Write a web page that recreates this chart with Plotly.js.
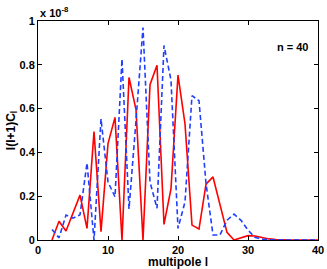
<!DOCTYPE html>
<html>
<head>
<meta charset="utf-8">
<script src="https://cdn.plot.ly/plotly-3.0.1.min.js"></script>
<style>html,body{margin:0;padding:0;background:#fff;}#chart{width:327px;height:269px;}</style>
</head>
<body>
<div id="chart"></div>
<script>
// multipole l
const multipole = [2,3,4,5,6,7,8,9,10,11,12,13,14,15,16,17,18,19,20,21,22,23,24,25,26,27,28,29,30,31,32,33,34,35,36,37,38,39,40];
// l(l+1)C_l in units of 1e-8, red solid series
const seriesRed = [0,0.086,0.041,0.12,0.205,0.053,0.495,0.038,0.44,0.56,0,0.742,0.595,0,0.709,0.798,0.071,0.235,0.753,0.53,0.068,0.05,0.255,0.288,0.165,0.035,0,0.01,0.02,0.018,0.01,0.005,0.002,0,0,0,0,0,0];
// blue dashed series
const seriesBlue = [0.048,0.01,0.114,0.10,0.115,0.352,0,0.553,0.265,0.197,0.826,0.142,0.545,0.97,0.265,0.145,0.888,0.73,0.053,0.174,0.659,0.636,0.258,0.023,0.023,0.09,0.118,0.09,0.045,0.012,0.003,0,0,0,0,0,0,0,0];
const xTicks = [0,10,20,30,40];
const yTicks = [0,0.2,0.4,0.6,0.8,1];
const yTickText = ['0','0.2','0.4','0.6','0.8','1'];

const fam = 'Liberation Sans, Arial, sans-serif';
const tickFnt = {family:fam, size:11, color:'#000', weight:'bold'};
const titleFnt = {family:fam, size:12, color:'#000', weight:'bold'};

const traces = [
  {x: multipole, y: seriesRed, mode:'lines', line:{color:'#ff0000', width:1.6}, name:'red'},
  {x: multipole, y: seriesBlue, mode:'lines', line:{color:'#1f3fff', width:1.6, dash:'5px,3px'}, name:'blue'}
];

const layout = {
  width:327, height:269,
  margin:{l:38, r:9, t:21, b:29},
  paper_bgcolor:'#fff', plot_bgcolor:'#fff',
  showlegend:false,
  font: tickFnt,
  xaxis:{range:[0,40], tickvals:xTicks, ticks:'inside', ticklen:4, tickwidth:1, tickcolor:'#000',
         showline:true, linecolor:'#000', linewidth:1, mirror:'ticks', showgrid:false, zeroline:false,
         tickfont:tickFnt,
         title:{text:'multipole l', font:titleFnt, standoff:1}},
  yaxis:{range:[0,1], tickvals:yTicks, ticktext:yTickText, ticks:'inside', ticklen:4, tickwidth:1, tickcolor:'#000',
         showline:true, linecolor:'#000', linewidth:1, mirror:'ticks', showgrid:false, zeroline:false,
         tickfont:tickFnt,
         title:{text:'l(l+1)C<sub>l</sub>', font:titleFnt, standoff:1}},
  annotations:[
    {xref:'paper', yref:'paper', x:0, y:1, xanchor:'left', yanchor:'bottom', yshift:0, showarrow:false,
     text:'x 10<sup>-8</sup>', font:{family:fam, size:11, color:'#000', weight:'bold'}},
    {xref:'paper', yref:'paper', x:0.91, y:0.88, xanchor:'center', yanchor:'middle', showarrow:false,
     text:'n = 40', font:{family:fam, size:11, color:'#000', weight:'bold'}}
  ]
};

Plotly.newPlot('chart', traces, layout, {displayModeBar:false, staticPlot:true});
</script>
</body>
</html>
